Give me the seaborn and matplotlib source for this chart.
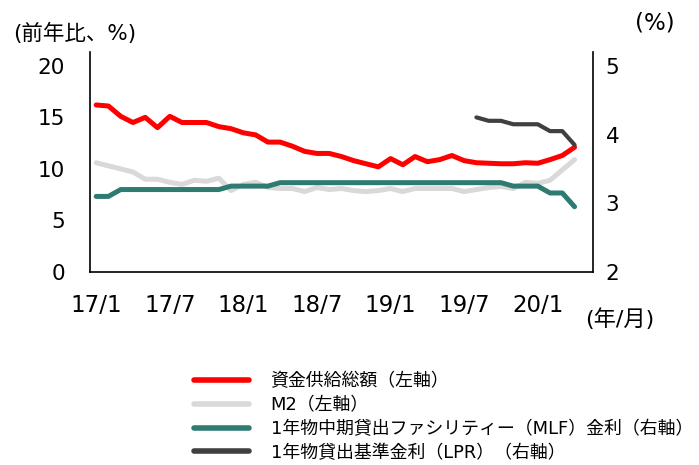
import numpy as np
import pandas as pd
import seaborn as sns
import matplotlib.pyplot as plt
from matplotlib.lines import Line2D

## data (monthly, 17/1 - 20/4)

months = [f"{y}/{m}" for y in (17, 18, 19, 20) for m in range(1, 13)][:40]

tsf = [16.2, 16.1, 15.1, 14.5, 15.0, 14.0, 15.1, 14.5, 14.5, 14.5,
       14.1, 13.9, 13.5, 13.3, 12.6, 12.6, 12.2, 11.7, 11.5, 11.5,
       11.2, 10.8, 10.5, 10.2, 11.0, 10.4, 11.2, 10.7, 10.9, 11.3,
       10.8, 10.6, 10.55, 10.5, 10.5, 10.6, 10.55, 10.9, 11.3, 12.1]

m2 = [10.6, 10.3, 10.0, 9.7, 9.0, 9.0, 8.7, 8.5, 8.9, 8.8,
      9.1, 7.9, 8.5, 8.7, 8.2, 8.1, 8.1, 7.8, 8.2, 8.0,
      8.1, 7.9, 7.8, 7.9, 8.1, 7.8, 8.1, 8.1, 8.1, 8.1,
      7.8, 8.0, 8.2, 8.3, 8.1, 8.7, 8.6, 8.9, 9.9, 10.9]

mlf = [3.1, 3.1, 3.2, 3.2, 3.2, 3.2, 3.2, 3.2, 3.2, 3.2,
       3.2, 3.25, 3.25, 3.25, 3.25, 3.3, 3.3, 3.3, 3.3, 3.3,
       3.3, 3.3, 3.3, 3.3, 3.3, 3.3, 3.3, 3.3, 3.3, 3.3,
       3.3, 3.3, 3.3, 3.3, 3.25, 3.25, 3.25, 3.15, 3.15, 2.95]

lpr_start = 31  # 19/8
lpr = [4.25, 4.20, 4.20, 4.15, 4.15, 4.15, 4.05, 4.05, 3.85]

xtick_labels = ["17/1", "17/7", "18/1", "18/7", "19/1", "19/7", "20/1"]

labels = ["資金供給総額（左軸）", "M2（左軸）",
          "1年物中期貸出ファシリティー（MLF）金利（右軸）",
          "1年物貸出基準金利（LPR）（右軸）"]
colors = ["#FF0000", "#D9D9D9", "#2E7B72", "#404040"]

## tables
x = np.arange(len(months)) + 0.5
left = pd.DataFrame({"x": x, "tsf": tsf, "m2": m2})
right = pd.DataFrame({"x": x, "mlf": mlf})
lpr_df = pd.DataFrame({"x": x[lpr_start:lpr_start + len(lpr)], "lpr": lpr})

sns.set_style("white")
plt.rcParams["font.family"] = ["DejaVu Sans", "Noto Sans CJK JP"]
plt.rcParams["text.color"] = "black"
plt.rcParams["xtick.color"] = "black"
plt.rcParams["ytick.color"] = "black"

fig = plt.figure(figsize=(6.99, 4.65), dpi=100)
ax = fig.add_axes([0.1288, 0.415, 0.7195, 0.473])
ax2 = ax.twinx()

sns.lineplot(data=left, x="x", y="m2", ax=ax, color=colors[1], lw=3.6)
sns.lineplot(data=left, x="x", y="tsf", ax=ax, color=colors[0], lw=3.6)
sns.lineplot(data=right, x="x", y="mlf", ax=ax2, color=colors[2], lw=3.6)
sns.lineplot(data=lpr_df, x="x", y="lpr", ax=ax2, color=colors[3], lw=3.0)

# axes ranges
ax.set_xlim(0, 41)
ax.set_ylim(0, 21.33)
ax2.set_ylim(2, 5.2)
ax.set_yticks([0, 5, 10, 15, 20])
ax2.set_yticks([2, 3, 4, 5])
ax.set_xlabel("")
ax.set_ylabel("")
ax2.set_ylabel("")

ax.set_xticks(np.arange(0, 37, 6) + 0.5)
ax.set_xticklabels(xtick_labels)
ax.set_xticks(np.arange(0, 37, 6), minor=True)
ax.tick_params(axis="x", which="major", length=0, pad=16, labelsize=16.5, colors="black")
ax.tick_params(axis="x", which="minor", length=7, width=1.2, color="#D0D0D0", direction="out")
ax.tick_params(axis="y", length=0, pad=18, labelsize=15.5, colors="black")
ax2.tick_params(axis="y", length=0, pad=9, labelsize=15.5, colors="black")

for a in (ax, ax2):
    a.spines["top"].set_visible(False)
    for s in ("left", "right", "bottom"):
        a.spines[s].set_color("black")
        a.spines[s].set_linewidth(1.2)
ax.spines["right"].set_visible(False)
ax2.spines["left"].set_visible(False)
ax2.spines["bottom"].set_visible(False)

fig.text(75 / 699, 1 - 33 / 465, "(前年比、%)", ha="center", va="center", fontsize=15.5)
fig.text(655 / 699, 1 - 23 / 465, "(%)", ha="center", va="center", fontsize=16.5)
fig.text(620 / 699, 1 - 319 / 465, "(年/月)", ha="center", va="center", fontsize=16)

handles = [Line2D([], [], color=c, lw=4) for c in colors]
fig.legend(handles, labels, loc="upper left", bbox_to_anchor=(0.277, 0.2),
           frameon=False, fontsize=12.9, handlelength=3.1, handletextpad=1.2,
           labelspacing=0.33, borderpad=0, borderaxespad=0)

fig.savefig("out.png", dpi=100)
